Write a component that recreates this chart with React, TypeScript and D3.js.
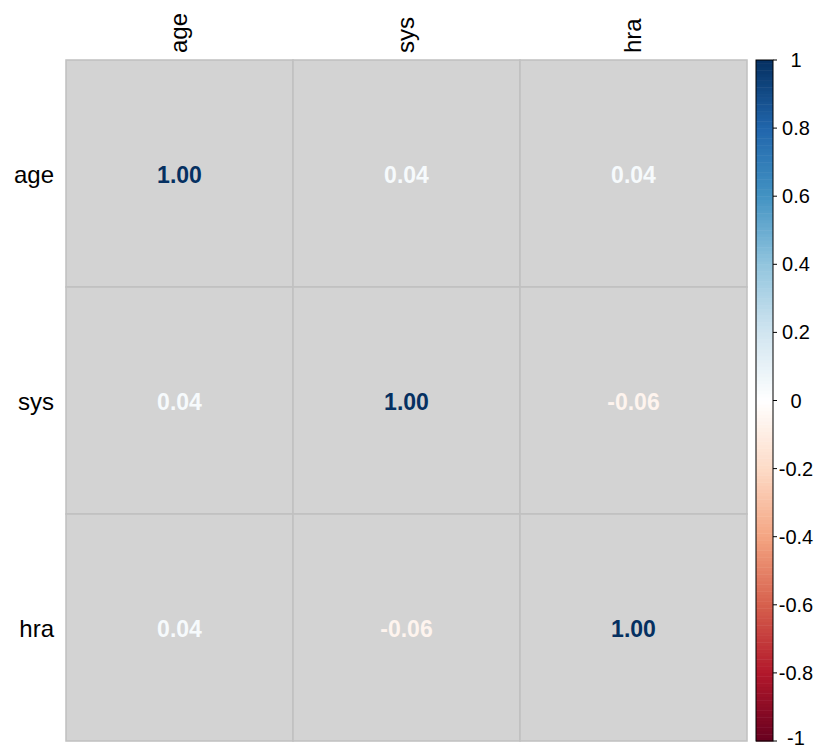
import React from "react";
import * as d3 from "d3";

const variables = ["age", "sys", "hra"];
const correlations = [
  [1.0, 0.04, 0.04],
  [0.04, 1.0, -0.06],
  [0.04, -0.06, 1.0],
];
const legendTicks = [1, 0.8, 0.6, 0.4, 0.2, 0, -0.2, -0.4, -0.6, -0.8, -1];
const rdBu = [
  "#67001F", "#B2182B", "#D6604D", "#F4A582", "#FDDBC7", "#FFFFFF",
  "#D1E5F0", "#92C5DE", "#4393C3", "#2166AC", "#053061",
];

const W = 815;
const H = 749;
const gridLeft = 66;
const gridTop = 60;
const gridSize = 681;
const barX = 756;
const barW = 17;

export default function App() {
  const x = d3.scaleBand<string>().domain(variables).range([gridLeft, gridLeft + gridSize]);
  const y = d3.scaleBand<string>().domain(variables).range([gridTop, gridTop + gridSize]);
  const color = d3
    .scaleLinear<string>()
    .domain(d3.range(rdBu.length).map((i) => -1 + (2 * i) / (rdBu.length - 1)))
    .range(rdBu)
    .interpolate(d3.interpolateRgb);
  const legendY = d3.scaleLinear().domain([-1, 1]).range([gridTop + gridSize, gridTop]);
  const steps = d3.range(200).map((i) => -1 + (2 * (i + 0.5)) / 200);
  const stepH = gridSize / 200;

  return (
    <svg width={W} height={H} style={{ position: "absolute", left: 0, top: 0 }}
      fontFamily="Liberation Sans, Arial, sans-serif">
      <rect width={W} height={H} fill="#ffffff" />
      {variables.map((r) =>
        variables.map((c) => (
          <rect key={`${r}-${c}`} x={x(c)!} y={y(r)!} width={x.bandwidth()} height={y.bandwidth()}
            fill="#D3D3D3" stroke="#C0C0C0" strokeWidth={1.5} />
        ))
      )}
      {variables.map((r, i) =>
        variables.map((c, j) => (
          <text key={`t-${r}-${c}`} x={x(c)! + x.bandwidth() / 2} y={y(r)! + y.bandwidth() / 2 + 1}
            textAnchor="middle" dominantBaseline="central" fontSize={23} fontWeight="bold"
            fill={color(correlations[i][j])}>
            {correlations[i][j].toFixed(2)}
          </text>
        ))
      )}
      {variables.map((v) => (
        <text key={`row-${v}`} x={54} y={y(v)! + y.bandwidth() / 2 + 1} textAnchor="end"
          dominantBaseline="central" fontSize={24} fill="#000">
          {v}
        </text>
      ))}
      {variables.map((v) => (
        <text key={`col-${v}`} transform={`translate(${x(v)! + x.bandwidth() / 2 - 1},53) rotate(-90)`}
          textAnchor="start" dominantBaseline="central" fontSize={24} fill="#000">
          {v}
        </text>
      ))}
      {steps.map((s, i) => (
        <rect key={`bar-${i}`} x={barX} y={legendY(s) - stepH / 2} width={barW} height={stepH + 0.5}
          fill={color(s)} />
      ))}
      <rect x={barX} y={gridTop} width={barW} height={gridSize} fill="none" stroke="#000" strokeWidth={1} />
      {legendTicks.map((t) => (
        <g key={`lt-${t}`}>
          <line x1={barX + barW} x2={barX + barW + 4} y1={legendY(t)} y2={legendY(t)} stroke="#000" />
          <text x={796} y={Math.min(legendY(t), H - 11)} textAnchor="middle" dominantBaseline="central"
            fontSize={20} fill="#000">
            {t === 0 ? "0" : String(t)}
          </text>
        </g>
      ))}
    </svg>
  );
}
